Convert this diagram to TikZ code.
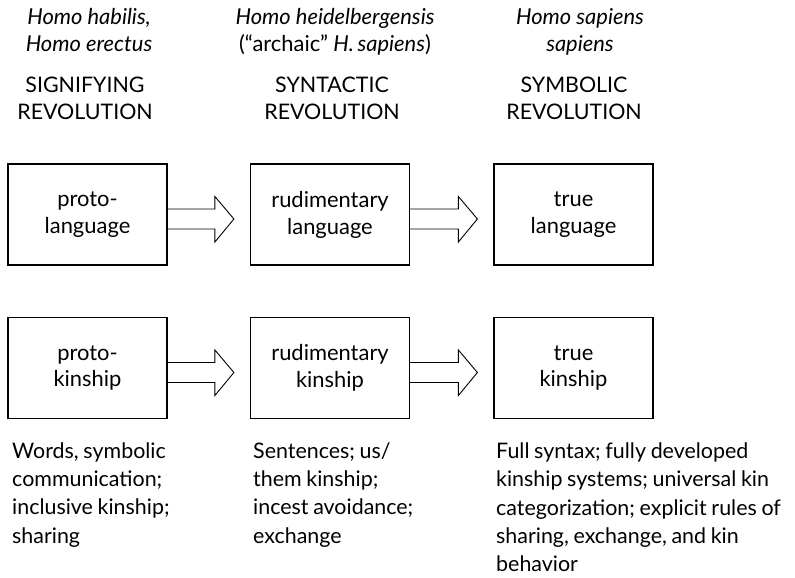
\documentclass[tikz,border=0pt]{standalone}
\usepackage{fontspec}
\setmainfont{Lato}
\newfontfamily\traitfont{Lato}[WordSpace=0.85]
\usetikzlibrary{calc}

\tikzset{
  stagebox/.style={draw, line width=1.2bp, minimum width=159bp, minimum height=101bp,
    inner sep=0pt, align=center, font=\fontsize{22}{27}\selectfont},
  fatarrow/.style={draw, line width=0.9bp, line join=miter},
  species/.style={anchor=base, align=center, inner sep=0pt, font=\fontsize{22}{27.5}\selectfont\itshape},
  revolution/.style={anchor=base, align=center, inner sep=0pt, font=\fontsize{21.5}{28}\selectfont},
  traits/.style={anchor=base west, align=left, inner sep=0pt, font=\traitfont\fontsize{21.5}{28.3}\selectfont}
}

% hollow block arrow from the right edge of #1 towards the left edge of #2
\newcommand\blockarrow[2]{%
  \draw[fatarrow]
    ($(#1.east)+(0,-5.5)$) -- ($(#2.west)+(-35,-5.5)$) -- ($(#2.west)+(-35,-18)$)
    -- ($(#2.west)+(-16,4.5)$)
    -- ($(#2.west)+(-35,27.5)$) -- ($(#2.west)+(-35,14.5)$) -- ($(#1.east)+(0,14.5)$);
}

\begin{document}
\begin{tikzpicture}[x=1bp, y=-1bp]
  \useasboundingbox (0,0) rectangle (795,578);

  % species above each column (anchored at the baseline of the last line)
  \node[species] (sp1) at (89,52) {Homo habilis,\\Homo erectus};
  \node[species] (sp2) at (335,52) {Homo heidelbergensis\\{\upshape(“archaic”} H.\,sapiens{\upshape)}};
  \node[species] (sp3) at (580,52) {Homo sapiens\\sapiens};

  % the three revolutions
  \node[revolution] (rv1) at (85,120) {SIGNIFYING\\REVOLUTION};
  \node[revolution] (rv2) at (332,120) {SYNTACTIC\\REVOLUTION};
  \node[revolution] (rv3) at (574,120) {SYMBOLIC\\REVOLUTION};

  % language row
  \node[stagebox] (l1) at (87.5,214.5) {proto-\\language};
  \node[stagebox] (l2) at (330,214.5) {rudimentary\\language};
  \node[stagebox] (l3) at (573.5,214.5) {true\\language};

  % kinship row
  \node[stagebox] (k1) at (87.5,368) {proto-\\kinship};
  \node[stagebox] (k2) at (330,368) {rudimentary\\kinship};
  \node[stagebox] (k3) at (573.5,368) {true\\kinship};

  \blockarrow{l1}{l2}
  \blockarrow{l2}{l3}
  \blockarrow{k1}{k2}
  \blockarrow{k2}{k3}

  % characteristics of each stage
  \node[traits] (t1) at (12,543) {Words, symbolic\\communication;\\inclusive kinship;\\sharing};
  \node[traits] (t2) at (253,543) {Sentences; us/\\them kinship;\\incest avoidance;\\exchange};
  \node[traits] (t3) at (496,571.5) {Full syntax; fully developed\\kinship systems; universal kin\\categorization; explicit rules of\\sharing, exchange, and kin\\behavior};
\end{tikzpicture}
\end{document}
